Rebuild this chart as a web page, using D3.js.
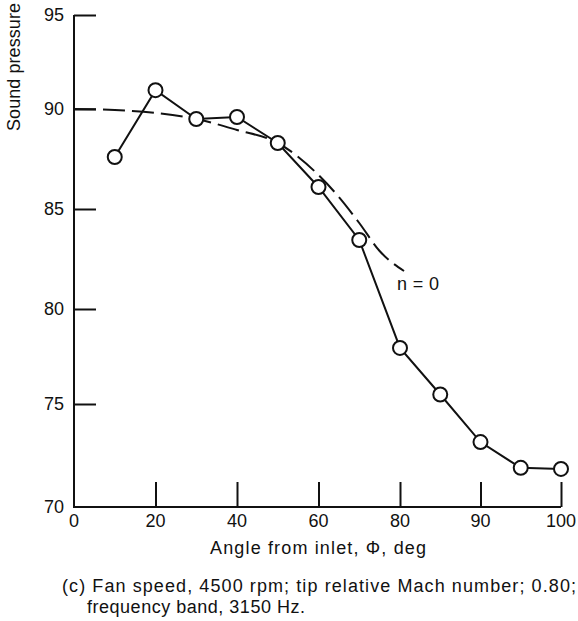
<!DOCTYPE html>
<html>
<head>
<meta charset="utf-8">
<script src="https://cdn.jsdelivr.net/npm/d3@7"></script>
<style>
    body { margin: 0; background: #fff; }
    text { font-family: "Liberation Sans", Arial, sans-serif; fill: #111; }
    .frame { stroke: #111; stroke-width: 2; fill: none; }
    .measured { stroke: #111; stroke-width: 2; fill: none; }
    .dashed { stroke: #111; stroke-width: 2; fill: none; stroke-dasharray: 22, 7; }
    .pt { stroke: #111; stroke-width: 2; fill: #fff; }
</style>
</head>
<body>
<svg class="scene"></svg>
<script>

//
// data
//

var angles = [10, 20, 30, 40, 50, 60, 70, 80, 85, 90, 95, 100];
var levels = [87.6, 91.0, 89.5, 89.6, 88.3, 86.1, 83.45, 77.95, 75.5, 73.15, 71.9, 71.85];

// n = 0 curve
var curve_angles = [0, 10, 20, 30, 40, 50, 60, 65, 70, 75, 80.5];
var curve_levels = [90.0, 89.95, 89.8, 89.5, 88.95, 88.3, 86.7, 85.6, 84.3, 82.9, 81.9];

var x_ticks = [0, 20, 40, 60, 80, 90, 100];
var y_ticks = [70, 75, 80, 85, 90, 95];

//
// scene
//

var width = 578,
    height = 621;

var scene = d3.select(".scene")
    .attr("width", width)
    .attr("height", height);

// the x axis is stretched past 80 deg, y ticks follow the scanned spacing
var x = d3.scaleLinear()
    .domain([0, 80, 100])
    .range([74, 400, 561]);

var y = d3.scaleLinear()
    .domain(y_ticks)
    .range([507, 404, 309, 209, 109, 15]);

//
// axes
//

scene.append("line")
    .attr("class", "frame")
    .attr("x1", x(0)).attr("x2", x(0))
    .attr("y1", y(95)).attr("y2", y(70));
scene.append("line")
    .attr("class", "frame")
    .attr("x1", x(0) - 1).attr("x2", x(100))
    .attr("y1", y(70)).attr("y2", y(70));

var x_axis = d3.axisTop(x)
    .tickValues(x_ticks.filter(function (d) { return d > 0; }))
    .tickSize(25)
    .tickFormat("");
scene.append("g")
    .attr("transform", "translate(0," + y(70) + ")")
    .call(x_axis)
    .call(function (g) {
        g.select(".domain").remove();
        g.selectAll("line").attr("stroke", "#111").attr("stroke-width", 2);
    });

var y_axis = d3.axisRight(y)
    .tickValues(y_ticks.filter(function (d) { return d > 70; }))
    .tickSize(22)
    .tickFormat("");
scene.append("g")
    .attr("transform", "translate(" + x(0) + ",0)")
    .call(y_axis)
    .call(function (g) {
        g.select(".domain").remove();
        g.selectAll("line").attr("stroke", "#111").attr("stroke-width", 2);
    });

// tick labels
scene.selectAll("text.xlab")
    .data(x_ticks)
    .enter().append("text")
    .attr("class", "xlab")
    .attr("x", function (d) { return x(d); })
    .attr("y", 527)
    .attr("text-anchor", "middle")
    .attr("font-size", 18)
    .text(function (d) { return d; });

scene.selectAll("text.ylab")
    .data(y_ticks)
    .enter().append("text")
    .attr("class", "ylab")
    .attr("x", 64)
    .attr("y", function (d) { return y(d) + 6; })
    .attr("text-anchor", "end")
    .attr("font-size", 18)
    .text(function (d) { return d; });

// titles
scene.append("text")
    .attr("x", 318)
    .attr("y", 554)
    .attr("text-anchor", "middle")
    .attr("font-size", 18)
    .attr("textLength", 216)
    .attr("lengthAdjust", "spacing")
    .text("Angle from inlet, \u03A6, deg");

scene.append("text")
    .attr("transform", "translate(20,131) rotate(-90)")
    .attr("font-size", 18)
    .attr("textLength", 128)
    .attr("lengthAdjust", "spacing")
    .text("Sound pressure");

//
// lines
//

var line = d3.line()
    .x(function (d) { return x(d[0]); })
    .y(function (d) { return y(d[1]); });

scene.append("path")
    .attr("class", "dashed")
    .attr("d", line.curve(d3.curveMonotoneX)(d3.zip(curve_angles, curve_levels)));

scene.append("path")
    .attr("class", "measured")
    .attr("d", line.curve(d3.curveLinear)(d3.zip(angles, levels)));

scene.selectAll("circle.pt")
    .data(d3.zip(angles, levels))
    .enter().append("circle")
    .attr("class", "pt")
    .attr("cx", function (d) { return x(d[0]); })
    .attr("cy", function (d) { return y(d[1]); })
    .attr("r", 7);

scene.append("text")
    .attr("x", 397)
    .attr("y", 290)
    .attr("font-size", 18)
    .attr("textLength", 42)
    .attr("lengthAdjust", "spacing")
    .text("n = 0");

//
// caption
//

scene.append("text")
    .attr("x", 62)
    .attr("y", 592)
    .attr("font-size", 18)
    .attr("textLength", 514)
    .attr("lengthAdjust", "spacing")
    .text("(c) Fan speed, 4500 rpm; tip relative Mach number; 0.80;");

scene.append("text")
    .attr("x", 87)
    .attr("y", 613)
    .attr("font-size", 18)
    .attr("textLength", 218)
    .attr("lengthAdjust", "spacing")
    .text("frequency band, 3150 Hz.");

</script>
</body>
</html>
